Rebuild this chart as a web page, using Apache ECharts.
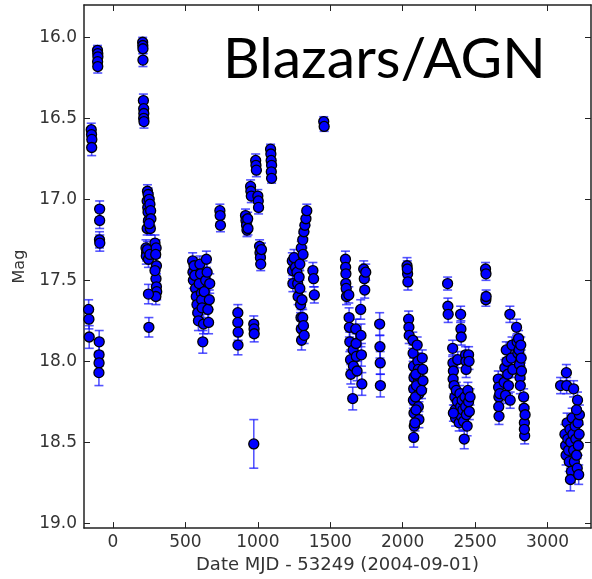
<!DOCTYPE html>
<html>
<head>
<meta charset="utf-8">
<script src="https://cdn.jsdelivr.net/npm/echarts@6/dist/echarts.min.js"></script>
<style>
html,body{margin:0;padding:0;background:#fff;}
#chart{width:592px;height:579px;}
</style>
</head>
<body>
<div id="chart"></div>
<script>
// Observation dates (MJD - 53249), magnitudes and 1-sigma errors
const dates = [
  -168,-166,-164,
  -150,-148,-146,-147,
  -107,-105,-104,-106,-105,
  -92,-92,-93,-91,
  -95,-96,-96,-97,
  205,206,207,207,
  210,212,213,212,214,
  238,243,236,250,240,255,242,260,245,262,236,258,250,
  228,232,230,238,245,255,
  290,298,295,300,297,300,302,296,290,
  245,248,
  550,552,555,560,565,570,575,580,585,590,595,600,605,610,612,615,620,625,630,640,645,650,655,660,665,668,
  738,740,742,
  862,862,864,863,
  915,918,922,925,930,932,
  950,952,955,
  972,974,975,
  972,
  985,987,990,
  1000,1003,1005,
  1012,1015,1018,1020,1025,
  1088,1090,1092,1095,1093,1095,
  1238,1240,1242,1250,1260,1270,1275,1278,1285,1290,1295,1298,1300,1302,1310,1315,1320,1305,
  1300,1310,1318,1325,1332,1338,1312,1290,
  1380,1385,1390,
  1455,1458,
  1605,1606,1608,1607,1610,1612,
  1628,1630,1632,1635,1640,1642,
  1655,1658,1660,
  1676,1678,1680,1685,
  1731,1735,1738,1745,
  1710,1712,1715,1718,
  1841,1843,1845,1846,
  2030,2034,2036,2032,
  2041,2043,2045,
  2070,2072,2075,2078,2076,2074,2078,2080,2076,
  2100,2105,2108,2110,2112,2108,2112,2095,2090,2088,2092,2085,
  2135,2138,2140,2130,
  2310,2312,2314,
  2345,2347,2350,2348,
  2380,
  2400,2402,2404,
  2434,2436,2438,
  2455,2458,
  2355,2360,2362,2365,2370,2378,2385,2390,2395,2400,2405,2410,2415,2420,2425,2430,2435,2440,2445,2450,2455,2460,2465,2350,
  2572,2575,2574,2576,
  2660,2662,2664,2663,2665,2670,
  2700,2705,2710,2715,2720,2725,2730,
  2740,2742,2750,2755,2760,
  2786,2790,2795,
  2800,2803,2806,2810,2812,2815,2818,2820,
  2835,2838,2840,2842,2840,2845,
  3090,3130,3132,3180,3207,
  3120,3125,3128,3135,3140,3145,3150,3155,3160,3165,3158,3170,3175,3180,3185,3190,3195,3200,3205,3210,3212,3215,3218,3220,3200
];
const mags = [
  17.68,17.74,17.85,
  16.57,16.60,16.63,16.68,
  16.08,16.10,16.12,16.15,16.18,
  17.06,17.13,17.25,17.27,
  17.88,17.96,18.01,18.07,
  16.03,16.05,16.07,16.14,
  16.39,16.44,16.47,16.50,16.52,
  16.95,16.97,17.01,17.00,17.05,17.03,17.08,17.07,17.13,17.12,17.18,17.18,17.15,
  17.30,17.33,17.35,17.31,17.37,17.34,
  17.27,17.30,17.34,17.41,17.49,17.54,17.57,17.60,17.44,
  17.585,17.79,
  17.38,17.45,17.50,17.41,17.47,17.55,17.60,17.65,17.70,17.75,17.52,17.40,17.46,17.58,17.62,17.67,17.88,17.77,17.57,17.50,17.37,17.45,17.68,17.76,17.62,17.52,
  17.07,17.10,17.16,
  17.70,17.76,17.82,17.90,
  17.10,17.13,17.16,17.19,17.12,17.18,
  16.92,16.95,16.98,
  17.77,17.80,17.83,
  18.51,
  16.76,16.79,16.82,
  16.98,17.01,17.05,
  17.29,17.33,17.36,17.40,17.31,
  16.69,16.72,16.76,16.79,16.83,16.87,
  17.38,17.44,17.52,17.36,17.42,17.45,17.52,17.60,17.48,17.55,17.65,17.73,17.80,17.87,17.73,17.78,17.84,17.62,
  17.30,17.25,17.20,17.16,17.12,17.07,17.34,17.40,
  17.44,17.49,17.59,
  16.52,16.55,
  17.37,17.42,17.46,17.52,17.55,17.60,
  17.59,17.73,17.79,17.88,17.99,18.08,
  18.23,17.93,18.03,
  17.80,17.89,17.97,18.06,
  17.43,17.49,17.56,17.45,
  17.68,17.84,17.96,18.14,
  17.77,17.91,18.01,18.15,
  17.41,17.46,17.51,17.43,
  17.74,17.79,17.84,
  17.87,17.95,18.03,18.10,18.17,18.24,18.32,18.40,18.47,
  17.90,18.00,18.05,18.12,18.20,18.28,18.36,18.15,18.08,18.22,18.30,18.38,
  17.98,18.05,18.12,18.18,
  17.52,17.66,17.71,
  17.92,18.01,18.06,18.11,
  17.99,
  17.71,17.80,17.85,
  17.96,18.00,18.05,
  17.96,18.00,
  18.15,18.22,18.30,18.35,18.18,18.25,18.32,18.38,18.20,18.28,18.34,18.24,18.30,18.37,18.48,18.22,18.28,18.33,18.40,18.18,18.25,18.31,18.22,18.32,
  17.43,17.46,17.62,17.60,
  18.11,18.16,18.22,18.28,18.34,18.20,
  18.13,18.04,18.21,17.93,18.00,18.08,18.15,
  17.71,18.24,17.98,17.90,18.05,
  17.79,17.88,17.95,
  17.86,17.93,18.02,18.10,18.15,17.90,17.98,18.06,
  18.22,18.29,18.38,18.46,18.42,18.33,
  18.15,18.07,18.15,18.17,18.24,
  18.45,18.52,18.58,18.38,18.48,18.55,18.62,18.42,18.50,18.68,18.73,18.35,18.45,18.55,18.62,18.40,18.48,18.58,18.66,18.38,18.52,18.70,18.45,18.33,18.30
];
const errs = [
  0.06,0.06,0.07,
  0.04,0.04,0.04,0.05,
  0.03,0.03,0.03,0.03,0.04,
  0.05,0.05,0.05,0.05,
  0.07,0.07,0.07,0.08,
  0.03,0.03,0.03,0.04,
  0.04,0.04,0.04,0.04,0.04,
  0.04,0.04,0.04,0.04,0.04,0.04,0.04,0.04,0.04,0.04,0.04,0.04,0.04,
  0.05,0.05,0.05,0.05,0.05,0.05,
  0.05,0.05,0.05,0.05,0.05,0.05,0.05,0.05,0.05,
  0.06,0.06,
  0.05,0.05,0.05,0.05,0.05,0.05,0.05,0.06,0.06,0.06,0.05,0.05,0.05,0.06,0.06,0.06,0.07,0.06,0.06,0.06,0.05,0.06,0.07,0.07,0.06,0.06,
  0.04,0.04,0.04,
  0.05,0.05,0.05,0.06,
  0.04,0.04,0.04,0.04,0.04,0.04,
  0.04,0.04,0.04,
  0.05,0.05,0.05,
  0.15,
  0.04,0.04,0.04,
  0.04,0.04,0.04,
  0.04,0.04,0.04,0.04,0.04,
  0.03,0.03,0.03,0.03,0.03,0.03,
  0.05,0.05,0.05,0.05,0.05,0.05,0.05,0.05,0.05,0.05,0.05,0.05,0.05,0.06,0.05,0.05,0.05,0.05,
  0.04,0.04,0.04,0.04,0.04,0.04,0.04,0.04,
  0.05,0.05,0.05,
  0.03,0.03,
  0.05,0.05,0.05,0.05,0.05,0.05,
  0.05,0.06,0.06,0.06,0.06,0.06,
  0.07,0.06,0.06,
  0.06,0.06,0.06,0.06,
  0.05,0.05,0.05,0.05,
  0.06,0.07,0.07,0.07,
  0.07,0.07,0.07,0.07,
  0.05,0.05,0.05,0.05,
  0.05,0.05,0.05,
  0.05,0.05,0.05,0.05,0.05,0.05,0.05,0.06,0.06,
  0.05,0.05,0.05,0.05,0.05,0.05,0.05,0.05,0.05,0.05,0.05,0.05,
  0.05,0.05,0.05,0.05,
  0.04,0.05,0.05,
  0.05,0.05,0.05,0.05,
  0.05,
  0.05,0.05,0.05,
  0.05,0.05,0.05,
  0.05,0.05,
  0.05,0.05,0.05,0.05,0.05,0.05,0.05,0.05,0.05,0.05,0.05,0.05,0.05,0.06,0.06,0.05,0.05,0.05,0.06,0.05,0.05,0.05,0.05,0.05,
  0.04,0.04,0.04,0.04,
  0.05,0.05,0.05,0.05,0.05,0.05,
  0.05,0.05,0.05,0.05,0.05,0.05,0.05,
  0.05,0.05,0.05,0.05,0.05,
  0.05,0.05,0.05,
  0.05,0.05,0.05,0.05,0.05,0.05,0.05,0.05,
  0.05,0.05,0.05,0.05,0.05,0.05,
  0.05,0.05,0.05,0.05,0.05,
  0.06,0.06,0.06,0.06,0.06,0.06,0.06,0.06,0.06,0.07,0.07,0.06,0.06,0.06,0.06,0.06,0.06,0.06,0.06,0.06,0.06,0.06,0.06,0.06,0.06
];
const xTicks = [0, 500, 1000, 1500, 2000, 2500, 3000];
const yTicks = [16.0, 16.5, 17.0, 17.5, 18.0, 18.5, 19.0];
const titleText = 'Blazars/AGN';
const xTitle = 'Date MJD - 53249 (2004-09-01)';
const yTitle = 'Mag';

const points = dates.map((d, i) => [d, mags[i], errs[i]]);

const chart = echarts.init(document.getElementById('chart'), null, {renderer: 'canvas'});
const font = 'DejaVu Sans';
const axisLineStyle = {color: '#222', width: 1.5};
const tickStyle = {color: '#222', width: 1};

const option = {
  animation: false,
  backgroundColor: '#fff',
  grid: {left: 84, top: 5, right: 1, bottom: 46, containLabel: false},
  xAxis: [{
    type: 'value', min: -200, max: 3300, position: 'bottom',
    axisLine: {show: true, onZero: false, lineStyle: axisLineStyle},
    axisTick: {show: true, inside: true, length: 6, lineStyle: tickStyle, customValues: xTicks},
    axisLabel: {show: true, color: '#333', fontFamily: font, fontSize: 17, margin: 6, customValues: xTicks,
      formatter: v => String(v)},
    splitLine: {show: false},
    name: xTitle, nameLocation: 'middle', nameGap: 23,
    nameTextStyle: {color: '#333', fontFamily: font, fontSize: 18}
  }, {
    type: 'value', min: -200, max: 3300, position: 'top',
    axisLine: {show: true, onZero: false, lineStyle: axisLineStyle},
    axisTick: {show: true, inside: true, length: 6, lineStyle: tickStyle, customValues: xTicks},
    axisLabel: {show: false},
    splitLine: {show: false}
  }],
  yAxis: [{
    type: 'value', min: 15.8, max: 19.03, inverse: true, position: 'left',
    axisLine: {show: true, onZero: false, lineStyle: axisLineStyle},
    axisTick: {show: true, inside: true, length: 6, lineStyle: tickStyle, customValues: yTicks},
    axisLabel: {show: true, color: '#333', fontFamily: font, fontSize: 17, margin: 7, customValues: yTicks,
      formatter: v => Number(v).toFixed(1)},
    splitLine: {show: false},
    name: yTitle, nameLocation: 'middle', nameGap: 53, nameRotate: 90,
    nameTextStyle: {color: '#333', fontFamily: font, fontSize: 16}
  }, {
    type: 'value', min: 15.8, max: 19.03, inverse: true, position: 'right',
    axisLine: {show: true, onZero: false, lineStyle: axisLineStyle},
    axisTick: {show: true, inside: true, length: 6, lineStyle: tickStyle, customValues: yTicks},
    axisLabel: {show: false},
    splitLine: {show: false}
  }],
  graphic: [{
    type: 'text', left: 223, top: 31, z: 100,
    style: {text: titleText, fill: '#000', font: '57px Lato'}
  }],
  series: [{
    type: 'custom',
    xAxisIndex: 0, yAxisIndex: 0,
    data: points,
    encode: {x: 0, y: 1},
    z: 2,
    renderItem: function (params, api) {
      const x = api.value(0), y = api.value(1), e = api.value(2);
      const a = api.coord([x, y - e]);
      const b = api.coord([x, y + e]);
      const hw = 4.5;
      const st = {stroke: 'rgba(20,20,255,0.72)', lineWidth: 1.6};
      return {type: 'group', children: [
        {type: 'line', shape: {x1: a[0], y1: a[1], x2: b[0], y2: b[1]}, style: st},
        {type: 'line', shape: {x1: a[0] - hw, y1: a[1], x2: a[0] + hw, y2: a[1]}, style: st},
        {type: 'line', shape: {x1: b[0] - hw, y1: b[1], x2: b[0] + hw, y2: b[1]}, style: st}
      ]};
    }
  }, {
    type: 'scatter',
    xAxisIndex: 0, yAxisIndex: 0,
    data: points.map(p => [p[0], p[1]]),
    symbol: 'circle', symbolSize: 10,
    itemStyle: {color: '#0000ff', borderColor: '#000', borderWidth: 1.3, opacity: 1},
    z: 3
  }]
};
chart.setOption(option);
</script>
</body>
</html>
